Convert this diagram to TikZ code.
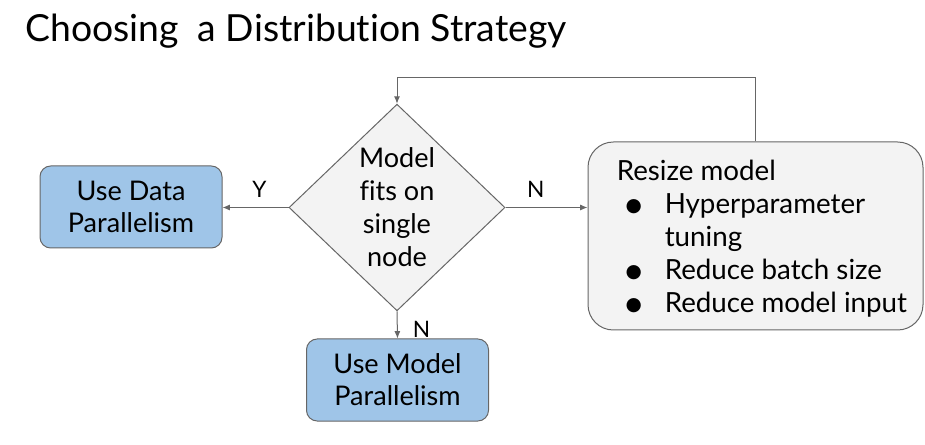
\documentclass[tikz,border=0pt]{standalone}
\usepackage{fontspec}
\setmainfont{Lato}[Ligatures={NoCommon,NoRare,NoDiscretionary}]
\newfontfamily\symfont{DejaVu Sans}
\usepackage{tikz}
\usetikzlibrary{arrows.meta}
\usetikzlibrary{shapes.geometric}
\usetikzlibrary{positioning}

\definecolor{boxblue}{HTML}{9FC5E8}
\definecolor{boxgray}{HTML}{F3F3F3}
\definecolor{linegray}{HTML}{666666}

\newcommand{\bul}{\raisebox{1.5pt}{\symfont\fontsize{14}{14}\selectfont ●}}
\newcommand{\bitem}[1]{\makebox[36pt][l]{\makebox[25.5pt]{\bul}}#1}

\begin{document}
\begin{tikzpicture}[x=0.75pt,y=-0.75pt]
  \tikzset{box/.style = {draw=linegray,fill=boxblue,rounded corners=8pt,line width=0.75pt,
      minimum width=136.5pt,minimum height=61.5pt,align=center,
      font=\fontsize{20.3}{24}\selectfont}}
  \tikzset{decision/.style = {shape=diamond,draw=linegray,fill=boxgray,line width=0.75pt,
      minimum width=162pt,minimum height=155pt,inner sep=0pt,align=center,
      font=\fontsize{20.3}{24.75}\selectfont}}
  \tikzset{listbox/.style = {draw=linegray,fill=boxgray,rounded corners=19pt,line width=0.75pt,
      minimum width=251.25pt,minimum height=141pt}}
  \tikzset{link/.style = {draw=linegray,line width=0.75pt,-{Latex[length=5.5pt,width=4.5pt]}}}
  \tikzset{lbl/.style = {font=\fontsize{17}{17}\selectfont}}

  \useasboundingbox (0,0) rectangle (925,445);

  \node[anchor=base west,inner sep=0pt,font=\fontsize{28}{28}\selectfont] (title) at (25,42)
    {Choosing\ \ a Distribution Strategy};

  % decision and outcomes
  \node[decision] (fits) at (397,207.5) {Model\\fits on\\single\\node};
  \node[box] (data) at (131,207) {Use Data\\Parallelism};
  \node[box] (model) at (397.5,380) {Use Model\\Parallelism};

  % resize loop
  \node[listbox] (resize) at (755.5,236) {};
  \node[anchor=west,right=21.75pt of resize.west,yshift=-2pt,inner sep=0pt,align=left,
    font=\fontsize{20.8}{24.75}\selectfont] (resizetext)
    {Resize model\\
     \bitem{Hyperparameter}\\
     \hspace*{36pt}tuning\\
     \bitem{Reduce batch size}\\
     \bitem{Reduce model input}};
  \coordinate (loop) at (397,78);

  \draw[link] (fits.west) -- node[lbl,above=4pt,xshift=3pt]{Y} (fits.west -| data.east);
  \draw[link] (fits.east) -- node[lbl,above=4pt,xshift=-8pt]{N} (fits.east -| resize.west);
  \draw[link] (fits.south) -- node[lbl,right=8pt,yshift=-3pt]{N} (model.north);
  \draw[link] (resize.north) |- (loop) -- (fits.north);
\end{tikzpicture}
\end{document}
